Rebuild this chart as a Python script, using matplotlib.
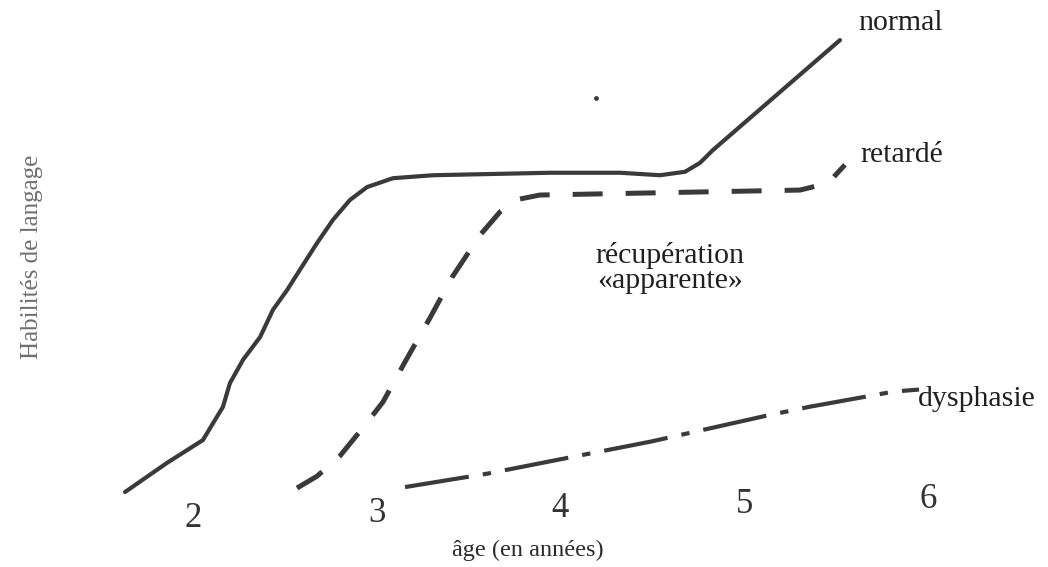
import matplotlib
matplotlib.use("Agg")
import matplotlib.pyplot as plt

# ---- data (age in years, language skill on an arbitrary 0-100 scale) ----
normal_age = [1.630, 1.859, 2.054, 2.109, 2.163, 2.201, 2.272, 2.365, 2.435, 2.512,
              2.582, 2.675, 2.762, 2.854, 2.947, 3.088, 3.306, 3.943, 4.324, 4.541,
              4.678, 4.759, 4.830, 5.521]
normal_level = [0.6, 6.5, 11.1, 14.5, 17.8, 22.6, 27.3, 31.9, 37.4, 41.4,
                45.5, 50.9, 55.6, 59.6, 62.2, 64.0, 64.6, 65.1, 65.1, 64.6,
                65.3, 67.1, 69.7, 91.9]

retarde_age = [2.566, 2.675, 2.800, 2.936, 3.034, 3.154, 3.290, 3.410, 3.562, 3.671,
               3.752, 3.888, 5.303, 5.456, 5.548]
retarde_level = [1.4, 3.8, 7.9, 14.1, 18.8, 26.9, 35.8, 44.0, 52.5, 57.2,
                 59.6, 60.6, 61.6, 63.0, 66.7]

dysphasie_age = [3.154, 3.600, 3.970, 4.493, 5.118, 5.352, 5.815, 5.951]
dysphasie_level = [1.6, 4.3, 7.0, 10.8, 16.0, 17.8, 20.9, 21.3]

speck_age = [4.193]
speck_level = [80.2]

ages = [2, 3, 4, 5, 6]
age_labels = ["2", "3", "4", "5", "6"]

curve_labels = {"normal": "normal", "retarde": "retardé", "dysphasie": "dysphasie"}
x_title = "âge (en années)"
y_title = "Habilités de langage"
note_lines = ["récupération", "«apparente»"]

# ---- figure ----
W, H, DPI = 1048, 567, 100
fig = plt.figure(figsize=(W / DPI, H / DPI), dpi=DPI, facecolor="white")
ax = fig.add_axes([0, 72 / H, 1, 495 / H])
ax.set_xlim(2 - 193 / 183.75, 2 + (W - 193) / 183.75)
ax.set_ylim(0, 100)
ax.axis("off")

ink = "#3a3a3a"
serif = ["Liberation Serif", "DejaVu Serif"]
txt = "#1f1f1f"

ax.plot(normal_age, normal_level, color=ink, lw=3.0, solid_capstyle="round",
        solid_joinstyle="round", clip_on=False)
ax.plot(retarde_age, retarde_level, color=ink, lw=3.6, dashes=(6.0, 4.6),
        clip_on=False)
ax.plot(dysphasie_age, dysphasie_level, color=ink, lw=3.0,
        dashes=(15.5, 3.4, 2.0, 3.4), clip_on=False)
ax.scatter(speck_age, speck_level, s=6, color=ink, clip_on=False)

# curve labels
ax.text(5.619, 95.3, curve_labels["normal"], ha="left", va="center",
        fontsize=21.5, family=serif, color=txt)
ax.text(5.630, 68.7, curve_labels["retarde"], ha="left", va="center",
        fontsize=21.5, family=serif, color=txt)
ax.text(5.946, 18.0, curve_labels["dysphasie"], ha="left", va="baseline",
        fontsize=21.5, family=serif, color=txt)
ax.text(4.596, 46.9, note_lines[0], ha="center", va="baseline",
        fontsize=21.5, family=serif, color=txt)
ax.text(4.596, 41.8, note_lines[1], ha="center", va="baseline",
        fontsize=21.5, family=serif, color=txt)

# age tick labels (slightly tilted baseline as in the scan)
for a, lab in zip(ages, age_labels):
    ax.text(a, -6.46 + (a - 2) * 0.96, lab, ha="center", va="baseline",
            fontsize=25, family=serif, color="#333333")

# axis titles
fig.text(528 / W, 1 - 550 / H, x_title, ha="center", va="center",
         fontsize=17.5, family=serif, color="#2a2a2a")
fig.text(32 / W, 1 - 257 / H, y_title, ha="center", va="center", rotation=90,
         fontsize=18, family=serif, color="#6e6e6e")

fig.savefig("out.png", dpi=DPI, facecolor="white")
